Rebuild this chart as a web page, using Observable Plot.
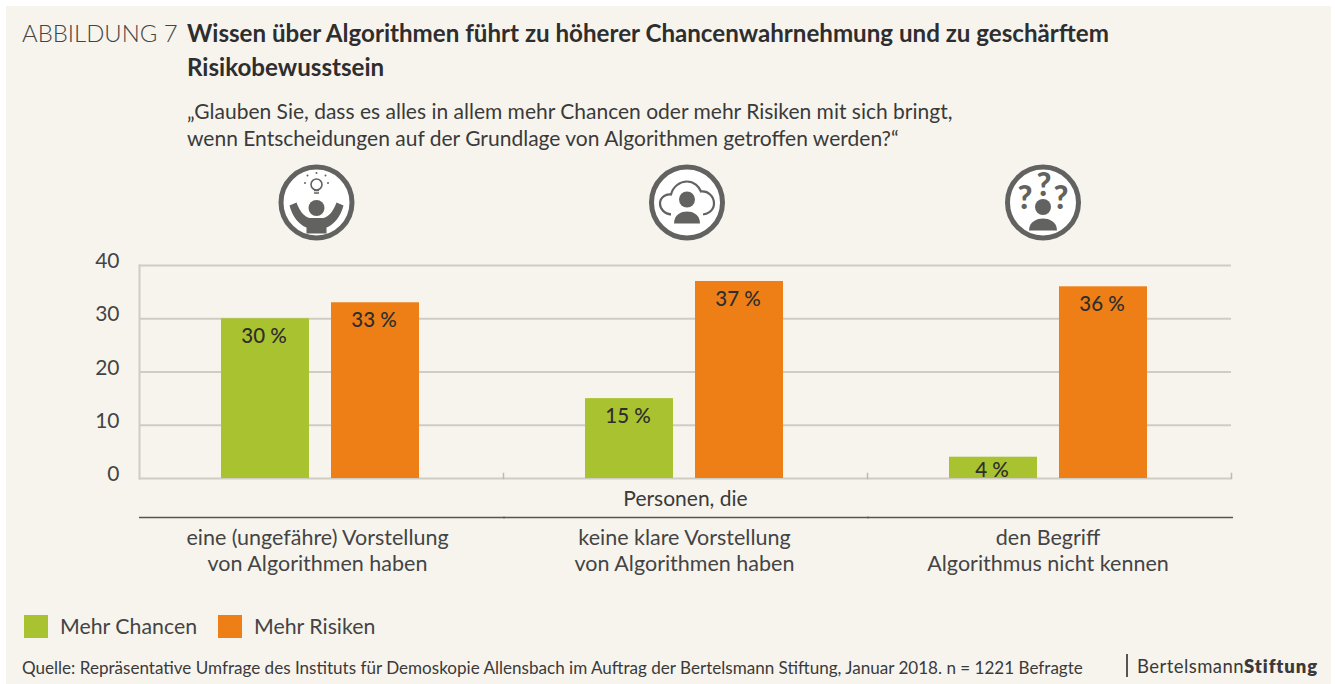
<!DOCTYPE html>
<html lang="de">
<head>
<meta charset="utf-8">
<script src="https://cdn.jsdelivr.net/npm/d3@7"></script>
<script src="https://cdn.jsdelivr.net/npm/@observablehq/plot@0.6"></script>
<style>
  html, body { margin: 0; padding: 0; background: #ffffff; overflow: hidden; }
  #page { position: relative; width: 1335px; height: 684px; background: #ffffff; font-family: Lato, sans-serif; color: #3a3a3a; overflow: hidden; }
  #page > div { position: absolute; white-space: nowrap; }
  #panel { left: 6px; top: 6px; width: 1325px; height: 678px; background: #f7f4ee; }
  #chart { left: 0; top: 160px; }
  #fig { left: 22px; top: 19px; font-size: 23.9px; font-weight: 300; line-height: 28px; color: #444; }
  #title { left: 187px; top: 16px; font-size: 24.15px; font-weight: 700; line-height: 34px; color: #2e2e2e; }
  #sub { left: 187px; top: 97px; font-size: 21px; line-height: 27px; color: #3a3a3a; }
  .sw { width: 24px; height: 23px; top: 615px; }
  .lg { top: 614px; font-size: 21.3px; line-height: 25px; color: #444; }
  #src { left: 22px; top: 657px; font-size: 17.07px; line-height: 22px; color: #3a3a3a; }
  #bar { left: 1126px; top: 654px; width: 2px; height: 23px; background: #555; }
  #brand { left: 1137px; top: 654px; font-size: 18.5px; line-height: 24px; color: #3a3a3a; letter-spacing: 0.45px; }
  #brand b { font-weight: 800; letter-spacing: 0.9px; }
</style>
</head>
<body>
<div id="page">
  <div id="panel"></div>
  <div id="fig"></div>
  <div id="title"></div>
  <div id="sub"></div>
  <div id="chart"></div>
  <div class="sw" style="left:24px" id="sw0"></div>
  <div class="lg" style="left:60px" id="lg0"></div>
  <div class="sw" style="left:218px" id="sw1"></div>
  <div class="lg" style="left:254px" id="lg1"></div>
  <div id="src"></div>
  <div id="bar"></div>
  <div id="brand">Bertelsmann<b>Stiftung</b></div>
</div>
<script>
const figureLabel = "ABBILDUNG 7";
const titleLines = ["Wissen über Algorithmen führt zu höherer Chancenwahrnehmung und zu geschärftem", "Risikobewusstsein"];
const subtitleLines = ["„Glauben Sie, dass es alles in allem mehr Chancen oder mehr Risiken mit sich bringt,", "wenn Entscheidungen auf der Grundlage von Algorithmen getroffen werden?“"];
const source = "Quelle: Repräsentative Umfrage des Instituts für Demoskopie Allensbach im Auftrag der Bertelsmann Stiftung, Januar 2018. n = 1221 Befragte";
const groupHeading = "Personen, die";
const categories = ["eine (ungefähre) Vorstellung\nvon Algorithmen haben", "keine klare Vorstellung\nvon Algorithmen haben", "den Begriff\nAlgorithmus nicht kennen"];
const seriesNames = ["Mehr Chancen", "Mehr Risiken"];
const seriesColors = ["#a9c22f", "#ee7f17"];
const chancen = [30, 15, 4];
const risiken = [33, 37, 36];
const yTicks = [0, 10, 20, 30, 40];

const rows = categories.flatMap((c, i) => [
  {category: c, series: seriesNames[0], value: chancen[i]},
  {category: c, series: seriesNames[1], value: risiken[i]}
]);

document.getElementById("fig").textContent = figureLabel;
document.getElementById("title").innerHTML = titleLines.join("<br>");
document.getElementById("sub").innerHTML = subtitleLines.join("<br>");
document.getElementById("src").textContent = source;
seriesNames.forEach((s, i) => {
  document.getElementById("sw" + i).style.background = seriesColors[i];
  document.getElementById("lg" + i).textContent = s;
});

const INK = "#626260";
const NS = "http://www.w3.org/2000/svg";
function el(parent, tag, attrs, text) {
  const n = document.createElementNS(NS, tag);
  for (const k in attrs) n.setAttribute(k, attrs[k]);
  if (text) n.textContent = text;
  parent.appendChild(n);
  return n;
}
function person(g, headY, bodyTop, bodyBottom, halfWidth) {
  el(g, "circle", {cx: 0, cy: headY, r: 8, fill: INK, stroke: "none"});
  el(g, "path", {d: `M${-halfWidth},${bodyBottom}C${-halfWidth},${bodyTop + 3} ${-6},${bodyTop} 0,${bodyTop}C6,${bodyTop} ${halfWidth},${bodyTop + 3} ${halfWidth},${bodyBottom}Z`, fill: INK, stroke: "none"});
}
const iconDrawers = [
  g => { // raised arms with light bulb
    el(g, "circle", {cx: 0, cy: 5.5, r: 8, fill: INK, stroke: "none"});
    el(g, "path", {d: "M-27,3 L-20,0 C-17,8 -13,14 -7,15.5 L7,15.5 C13,14 17,8 20,0 L27,3 C24,14 18,22 10,25 L10,31 L-10,31 L-10,25 C-18,22 -24,14 -27,3Z", fill: INK, stroke: "none"});
    el(g, "circle", {cx: 0, cy: -18, r: 5.5, fill: "none", stroke: INK, "stroke-width": 1.6});
    el(g, "path", {d: "M-2.5,-12 L2.5,-12 M-2.5,-9.5 L2.5,-9.5", fill: "none", stroke: INK, "stroke-width": 1.6});
    for (const [x, y] of [[-9, -27], [0, -29.5], [9, -27], [-11.5, -19.5], [11.5, -19.5]])
      el(g, "circle", {cx: x, cy: y, r: 1, fill: INK, stroke: "none"});
  },
  g => { // cloud with person
    el(g, "path", {d: "M-14,12 C-23,12 -27,6 -27,1 C-27,-5 -21,-9 -16,-8 C-14,-16 -7,-21 0,-21 C7,-21 12,-16 14,-11 C21,-12 27,-6 27,1 C27,7 22,12 14,12 L-14,12Z", fill: "none", stroke: INK, "stroke-width": 2.2});
    el(g, "circle", {cx: 0, cy: -3, r: 10.5, fill: "#ffffff", stroke: "none"});
    el(g, "path", {d: "M-16,22 L-16,10 L16,10 L16,22Z", fill: "#ffffff", stroke: "none"});
    person(g, -3, 9, 21, 13);
  },
  g => { // question marks with person
    person(g, 4.5, 16, 28, 14);
    for (const [x, y] of [[1, -7], [-18, 6], [18, 6]])
      el(g, "text", {x, y, "text-anchor": "middle", fill: INK, stroke: "none", "font-family": "Lato, sans-serif", "font-weight": 900, "font-size": 32}, "?");
  }
];
const iconOffsets = [-5, 1.5, -6.5];
const labelOffsets = [-4, -1, -1.5];

const iconMarks = categories.map((c, i) => Plot.dot([c], {
  fx: d => d,
  frameAnchor: "top",
  dx: iconOffsets[i],
  dy: -63,
  r: 35.5,
  fill: "#ffffff",
  stroke: INK,
  strokeWidth: 5,
  render(index, scales, values, dimensions, context, next) {
    const g = next(index, scales, values, dimensions, context);
    if (index.length) {
      const c0 = g.querySelector("circle");
      const cx = c0 ? +c0.getAttribute("cx") : 0;
      const cy = c0 ? +c0.getAttribute("cy") : 0;
      const host = el(g, "g", {transform: `translate(${cx},${cy})`});
      iconDrawers[i](host);
    }
    return g;
  }
}));

const categoryLabels = categories.map((c, i) => Plot.text([c], {
  fx: d => d, text: d => d, frameAnchor: "bottom", lineAnchor: "top",
  dx: labelOffsets[i], dy: 47, lineHeight: 1.25, fontSize: 21.5, fill: "#444"
}));

const labelStyle = {fx: "category", x: "series", y: "value", text: d => d.value + " %", fill: "#2e2e2e", fontSize: 20.5, fontWeight: 500, lineAnchor: "top", dx: -2.5};

const plot = Plot.plot({
  width: 1335,
  height: 420,
  marginTop: 105,
  marginBottom: 102,
  marginLeft: 138,
  marginRight: 103,
  style: {fontFamily: "Lato, sans-serif", fontSize: "20px", background: "transparent", color: "#444", overflow: "visible"},
  fx: {domain: categories, padding: 0, axis: null},
  x: {domain: seriesNames, paddingInner: 0.2, paddingOuter: 0.75, axis: null},
  y: {domain: [0, 40]},
  color: {domain: seriesNames, range: seriesColors},
  marks: [
    Plot.ruleY(yTicks, {stroke: "#cfccc4", strokeWidth: 2}),
    Plot.frame({anchor: "left", facet: "super", stroke: "#cfccc4", strokeWidth: 2}),
    Plot.frame({anchor: "right", insetTop: 208, stroke: "#bdbab2", strokeWidth: 1.5}),
    Plot.axisY({ticks: yTicks, tickSize: 0, tickPadding: 20, dy: -4, fontSize: 21, label: null}),
    Plot.barY(rows, {fx: "category", x: "series", y: "value", fill: "series", dx: -1}),
    Plot.text(rows, {...labelStyle, filter: d => d.value >= 10, dy: 9.5}),
    Plot.text(rows, {...labelStyle, filter: d => d.value < 10, dy: 5}),
    Plot.ruleY([0], {dy: 39, stroke: "#555", strokeWidth: 1.5, insetRight: -2}),
    Plot.text([groupHeading], {facet: "super", text: d => d, frameAnchor: "bottom", lineAnchor: "middle", dy: 21, fontSize: 21, fill: "#3a3a3a"}),
    ...categoryLabels,
    ...iconMarks
  ]
});
document.getElementById("chart").appendChild(plot);
</script>
</body>
</html>
